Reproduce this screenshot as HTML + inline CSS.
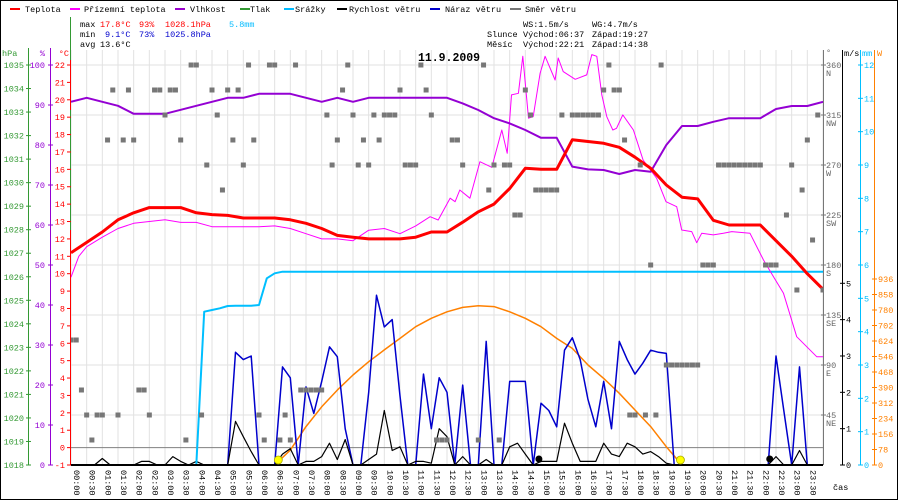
<!DOCTYPE html>
<html><head><meta charset="utf-8"><style>
html,body{margin:0;padding:0;background:#fff}
svg{display:block}
text{font-family:"Liberation Mono",monospace;font-size:8.5px}
</style></head><body>
<svg id="chart" width="900" height="500" viewBox="0 0 900 500" xmlns="http://www.w3.org/2000/svg">
<rect x="0.5" y="0.5" width="897" height="499" fill="#fff" stroke="#000" stroke-width="1"/>
<g id="legend">
 <g><rect x="10" y="8" width="10" height="2" fill="#f00"/><text x="25" y="12">Teplota</text></g>
 <g><rect x="70" y="8" width="10" height="2" fill="#f0f"/><text x="84" y="12">Přízemní teplota</text></g>
 <g><rect x="175" y="8" width="10" height="2" fill="#90c"/><text x="190" y="12">Vlhkost</text></g>
 <g><rect x="240" y="8" width="10" height="2" fill="#393"/><text x="250" y="12">Tlak</text></g>
 <g><rect x="284" y="8" width="10" height="2" fill="#0bf"/><text x="295" y="12">Srážky</text></g>
 <g><rect x="337" y="8" width="10" height="2" fill="#000"/><text x="349" y="12">Rychlost větru</text></g>
 <g><rect x="430" y="8" width="10" height="2" fill="#00c"/><text x="445" y="12">Náraz větru</text></g>
 <g><rect x="510" y="8" width="11" height="2" fill="#777"/><text x="525" y="12">Směr větru</text></g>
</g>
<g>
 <text x="80" y="27">max</text><text x="100" y="27" fill="#f00">17.8°C</text><text x="139" y="27" fill="#f00">93%</text><text x="165" y="27" fill="#f00">1028.1hPa</text><text x="229" y="27" fill="#0bf">5.8mm</text>
 <text x="80" y="37">min</text><text x="105" y="37" fill="#00c">9.1°C</text><text x="139" y="37" fill="#00c">73%</text><text x="165" y="37" fill="#00c">1025.8hPa</text>
 <text x="80" y="47">avg</text><text x="100" y="47">13.6°C</text>
 <text x="523" y="27">WS:1.5m/s</text><text x="592" y="27">WG:4.7m/s</text>
 <text x="487" y="37">Slunce</text><text x="523" y="37">Východ:06:37</text><text x="592" y="37">Západ:19:27</text>
 <text x="487" y="47">Měsíc</text><text x="523" y="47">Východ:22:21</text><text x="592" y="47">Západ:14:38</text>
</g>
<g id="grid"></g>
<text x="449" y="61" text-anchor="middle" style="font-size:11.5px;font-weight:bold">11.9.2009</text>
<defs><clipPath id="plotclip"><rect x="71" y="52" width="752" height="415"/></clipPath></defs>
<g id="series" clip-path="url(#plotclip)"></g>
<g id="axes"></g>
</svg>
<script>
const NS="http://www.w3.org/2000/svg";
// ---- data ----
const halfHourTimes=[0,0.5,1,1.5,2,2.5,3,3.5,4,4.5,5,5.5,6,6.5,7,7.5,8,8.5,9,9.5,10,10.5,11,11.5,12,12.5,13,13.5,14,14.5,15,15.5,16,16.5,17,17.5,18,18.5,19,19.5,20,20.5,21,21.5,22,22.5,23,23.5,24];
const temperature=[11.2,11.8,12.4,13.1,13.5,13.8,13.8,13.8,13.5,13.4,13.35,13.2,13.2,13.2,13.1,12.9,12.6,12.2,12.1,12.0,12.0,12.0,12.1,12.4,12.4,12.96,13.56,14.0,14.9,16.06,16.0,16.0,17.7,17.6,17.5,17.27,16.7,16.06,15.1,14.4,14.3,13.07,12.8,12.8,12.8,11.9,11.0,10.0,9.1];
const humidity=[90.8,91.8,90.8,89.8,87.8,87.8,87.8,88.8,89.8,90.8,91.8,91.8,92.8,92.8,92.8,91.8,90.8,91.8,90.8,91.8,91.8,91.8,91.8,91.8,91.8,90.4,88.75,86.7,85.4,83.75,81.8,81.8,74.6,73.9,73.75,72.75,73.75,73.3,80,84.75,84.75,85.8,86.7,86.7,86.7,89,89.75,89.75,90.8];
const solar=[0,0,0,0,0,0,0,0,0,0,0,0,0,0,75,193,293,377,453,520,579,637,696,738,771,793,801,797,771,738,696,637,587,503,436,361,277,193,92,0,0,0,0,0,0,0,0,0,0];
const apparentTimes=[0,0.25,0.5,1,1.5,2,2.5,3,3.5,4,4.5,5,5.5,6,6.5,7,7.5,8,8.5,9,9.5,10,10.5,11,11.46,11.72,12.10,12.26,12.41,12.73,13.05,13.43,13.75,13.92,14.06,14.28,14.42,14.60,14.75,14.97,15.13,15.45,15.55,15.71,16.09,16.46,16.62,16.78,16.94,17.10,17.29,17.41,17.61,17.95,18.26,18.69,18.99,19.33,19.49,19.81,19.97,20.13,20.5,20.82,21.09,21.67,22.1,22.42,22.74,23.16,23.8,24];
const apparentTemp=[9.8,11.0,11.55,12.1,12.6,12.9,13.0,13.1,12.95,12.95,12.7,12.7,12.7,12.7,12.75,12.6,12.3,12.0,12.0,11.9,12.5,12.6,12.3,12.75,13.28,13.09,14.34,14.14,14.81,14.34,16.44,16.12,18.26,16.92,20.28,20.37,22.5,18.94,19.03,21.52,22.5,21.14,22.4,21.62,21.18,21.43,22.6,22.5,20.28,19.03,18.26,18.36,19.13,18.26,16.54,15.49,14.14,13.85,12.51,12.42,11.78,12.32,12.23,12.32,12.42,12.32,10.79,9.83,8.87,6.38,5.23,5.23];
const gust=[0,0,0,0,0,0,0,0,0,0,0,0,0,0,0,0,0,0,0,0,0,3.1,2.9,3.0,0,0,0,2.7,2.4,0,2.15,1.42,2.3,3.25,2.98,1.0,0,0,2.0,4.67,3.8,4.0,1.9,0,0,2.5,1.0,2.4,2.0,0,2.2,0,0,3.4,0,0,2.3,2.3,2.3,0,1.7,1.5,1.05,3.16,3.5,2.9,1.8,1.05,2.3,1.0,3.4,2.9,2.5,2.8,3.16,3.1,3.07,0,0,0,0,0,0,0,0,0,0,0,0,0,3.0,1.5,0,2.7,0,0,0];
const windSpeed=[0,0,0,0,0.18,0,0,0,0,0.1,0.1,0,0,0.23,0.1,0,0.1,0,0,0,0,1.2,0.78,0.37,0,0,0,0.3,0.45,0,0.1,0.1,0.23,0.6,0.15,0.7,0,0,0.15,0.3,1.5,0.4,0.5,0,0.1,0.1,0.05,1.0,0.78,0,0.23,0,0,0.15,0,0,0.5,0.6,0.3,0,0.1,0.1,0.1,1.15,0.6,0.1,0.1,0.1,0.6,0.3,0.23,0.6,0.5,0.3,0.37,0.23,0.05,0,0,0,0,0,0,0,0,0,0,0,0,0,0.23,0,0,0.4,0,0,0];
const precipitation=[0,0,0,0,0,0,0,0,0,0,0,0,0,0,0,0,0,4.6,4.65,4.7,4.77,4.78,4.78,4.78,4.8,5.6,5.75,5.8,5.8,5.8,5.8,5.8,5.8,5.8,5.8,5.8,5.8,5.8,5.8,5.8,5.8,5.8,5.8,5.8,5.8,5.8,5.8,5.8,5.8,5.8,5.8,5.8,5.8,5.8,5.8,5.8,5.8,5.8,5.8,5.8,5.8,5.8,5.8,5.8,5.8,5.8,5.8,5.8,5.8,5.8,5.8,5.8,5.8,5.8,5.8,5.8,5.8,5.8,5.8,5.8,5.8,5.8,5.8,5.8,5.8,5.8,5.8,5.8,5.8,5.8,5.8,5.8,5.8,5.8,5.8,5.8,5.8,5.8,5.8];
const windDir=[112.5,112.5,67.5,45,22.5,45,45,292.5,337.5,45,292.5,337.5,292.5,67.5,67.5,45,337.5,337.5,315,337.5,337.5,292.5,22.5,360,360,45,270,337.5,315,247.5,337.5,292.5,337.5,270,360,292.5,45,22.5,360,360,22.5,45,22.5,360,67.5,67.5,67.5,67.5,67.5,315,270,292.5,337.5,360,315,270,292.5,270,315,292.5,315,315,315,337.5,270,270,270,360,337.5,315,22.5,22.5,22.5,292.5,292.5,270,null,null,22.5,360,247.5,270,22.5,270,270,225,225,337.5,315,247.5,247.5,247.5,247.5,247.5,315,null,315,315,315,315,315,315,337.5,360,337.5,337.5,292.5,45,45,270,45,180,45,360,90,90,90,90,90,90,90,180,180,180,270,270,270,270,270,270,270,270,270,180,180,180,null,225,270,157.5,247.5,292.5,202.5,315,157.5];
const sunEvents=[6+37/60,19+27/60];
const moonEvents=[14+56/60,22+18/60];
const hpaTicks=[1018,1019,1020,1021,1022,1023,1024,1025,1026,1027,1028,1029,1030,1031,1032,1033,1034,1035];
const pctTicks=[0,10,20,30,40,50,60,70,80,90,100];
const degCTicks=[-1,0,1,2,3,4,5,6,7,8,9,10,11,12,13,14,15,16,17,18,19,20,21,22];
const dirTicks=[45,90,135,180,225,270,315,360];
const dirNames=["NE","E","SE","S","SW","W","NW","N"];
const msTicks=[0,1,2,3,4,5];
const mmTicks=[0,1,2,3,4,5,6,7,8,9,10,11,12];
const wTicks=[0,78,156,234,312,390,468,546,624,702,780,858,936];
// ---- scales ----
const X0=71,X1=823,YB=465;
const x=h=>X0+h/24*(X1-X0);
const yT=t=>YB-(t+1)*400/23;
const yH=p=>YB-p*4;
const yP=v=>YB-(v-1018)*400/17;
const yMM=m=>YB-m*400/12;
const yV=v=>YB-v*(YB-283.3)/5;
const yW=w=>YB-w*(186/936);
const yD=d=>YB-d*400/360;
const q15=i=>i*0.25, m10=i=>i/6;
function el(tag,attrs,parent,txt){const e=document.createElementNS(NS,tag);for(const k in attrs)e.setAttribute(k,attrs[k]);if(txt!==undefined)e.textContent=txt;parent.appendChild(e);return e;}
const grid=document.getElementById('grid'),series=document.getElementById('series'),axes=document.getElementById('axes');
halfHourTimes.forEach(h=>{const l=el('line',{x1:x(h),x2:x(h),y1:50,y2:YB,stroke:'#e2e2e2','stroke-width':1},grid);

});
dirTicks.forEach(d=>{const l=el('line',{x1:X0,x2:X1,y1:yD(d),y2:yD(d),stroke:'#e2e2e2','stroke-width':1},grid);

});
const zl=el('line',{x1:X0,x2:X1,y1:yT(0),y2:yT(0),stroke:'#808080','stroke-width':1},grid);


function poly(times,vals,yf,color,w,name){const pts=vals.map((v,i)=>x(times[i]).toFixed(1)+','+yf(v).toFixed(1)).join(' ');
const p=el('polyline',{points:pts,fill:'none',stroke:color,'stroke-width':w,'stroke-linejoin':'round'},series);

return p;}
const t15=gust.map((_,i)=>q15(i));
let sFirst=solar.findIndex(v=>v>0)-1,sLast=solar.length-1-[...solar].reverse().findIndex(v=>v>0)+1;
poly(halfHourTimes.slice(sFirst,sLast+1),solar.slice(sFirst,sLast+1),yW,'#ff8000',1.5,'solar-radiation-line');
poly(t15,gust,yV,'#0000cc',1.5,'wind-gust-line');
poly(t15,windSpeed,yV,'#000',1.2,'wind-speed-line');
poly(t15,precipitation,yMM,'#00bfff',2,'precipitation-line');
poly(apparentTimes,apparentTemp,yT,'#ff00ff',1,'apparent-temperature-line');
poly(halfHourTimes,humidity,yH,'#9400d3',2,'humidity-line');
poly(halfHourTimes,temperature,yT,'#ff0000',3,'temperature-line');
windDir.forEach((d,i)=>{if(d===null)return;const r=el('rect',{x:x(m10(i))-2.5,y:yD(d)-2.5,width:5,height:5,fill:'#777'},series);

});
const base=el('line',{x1:X0,x2:X1,y1:YB,y2:YB,stroke:'#000','stroke-width':2},series);


sunEvents.forEach(h=>{const c=el('circle',{cx:x(h),cy:YB-5,r:4,fill:'#ff0',stroke:'#aa0','stroke-width':0.8},series);

});
moonEvents.forEach(h=>{const c=el('circle',{cx:x(h),cy:YB-6,r:3.5,fill:'#000'},series);

});
function vline(x0,y1,y2,c,name){const l=el('line',{x1:x0,x2:x0,y1:y1,y2:y2,stroke:c,'stroke-width':1},axes);

}
vline(28.5,48,YB,'#339933','hpa-axis-line');
vline(50.5,48,YB,'#9400d3','humidity-axis-line');
vline(70.5,17,230,'#339933','plot-left-border');
vline(70.5,230,YB,'#ff0000','celsius-axis-line');
vline(70.5,60,110,'#ff0000','celsius-axis-line-top');
function lbl(xx,yy,txt,c,anchor,name){const t=el('text',{x:xx,y:yy,fill:c,'text-anchor':anchor},axes,txt);

return t;}
lbl(2,56,'hPa','#339933','start','hpa-axis-title');
lbl(45,56,'%','#9400d3','end','humidity-axis-title');
lbl(69,56,'°C','#ff0000','end','celsius-axis-title');
hpaTicks.forEach(v=>{el('line',{x1:26,x2:31,y1:yP(v),y2:yP(v),stroke:'#339933'},axes);lbl(24,yP(v)+3,String(v),'#339933','end','hpa-tick-label');});
pctTicks.forEach(v=>{el('line',{x1:48,x2:53,y1:yH(v),y2:yH(v),stroke:'#9400d3'},axes);lbl(45,yH(v)+3,String(v),'#9400d3','end','humidity-tick-label');});
degCTicks.forEach(v=>{el('line',{x1:67,x2:71,y1:yT(v),y2:yT(v),stroke:'#ff0000'},axes);lbl(65,yT(v)+3,String(v),'#ff0000','end','celsius-tick-label');});
vline(823.5,50,YB,'#777','direction-axis-line');
vline(842.5,50,YB,'#000','wind-axis-line');
vline(860.5,50,YB,'#00bfff','precip-axis-line');
vline(874.5,50,YB,'#ff8000','solar-axis-line');
lbl(826,55,'°','#666','start','direction-axis-title');
lbl(844,56,'m/s','#000','start','wind-axis-title');
lbl(862,56,'mm','#00bfff','start','precip-axis-title');
lbl(877,56,'W','#ff8000','start','solar-axis-title');
dirTicks.forEach((v,i)=>{el('line',{x1:821,x2:826,y1:yD(v),y2:yD(v),stroke:'#777'},axes);lbl(826,yD(v)+3,String(v),'#666','start','direction-tick-label');lbl(826,yD(v)+11,dirNames[i],'#666','start','direction-name-label');});
msTicks.forEach(v=>{el('line',{x1:840,x2:845,y1:yV(v),y2:yV(v),stroke:'#000'},axes);lbl(846,yV(v)+3,String(v),'#000','start','wind-tick-label');});
mmTicks.forEach(v=>{el('line',{x1:858,x2:863,y1:yMM(v),y2:yMM(v),stroke:'#00bfff'},axes);lbl(864,yMM(v)+3,String(v),'#00bfff','start','precip-tick-label');});
wTicks.forEach(v=>{el('line',{x1:872,x2:877,y1:yW(v),y2:yW(v),stroke:'#ff8000'},axes);lbl(878,yW(v)+3,String(v),'#ff8000','start','solar-tick-label');});
lbl(833,490,'čas','#000','start','time-axis-title');
halfHourTimes.slice(0,48).forEach(h=>{const hh=Math.floor(h),mm=h%1?'30':'00';const s=(hh<10?'0':'')+hh+':'+mm;
const t=el('text',{x:0,y:0,transform:'translate('+(x(h)+3)+',470) rotate(90)','text-anchor':'start'},axes,s);

});
</script>
</body></html>
